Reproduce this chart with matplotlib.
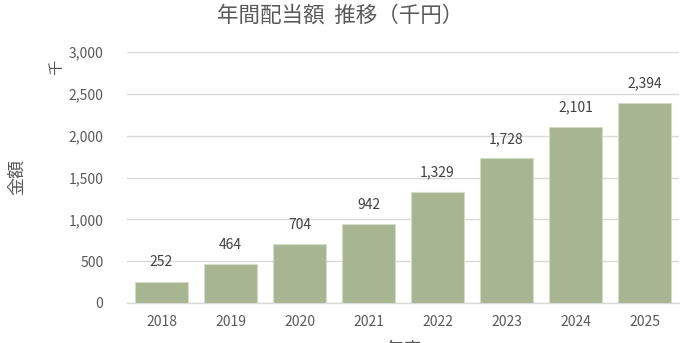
import numpy as np
import matplotlib
matplotlib.use("Agg")
import matplotlib.pyplot as plt

plt.rcParams['font.family'] = ['Noto Sans CJK JP', 'DejaVu Sans']

years = ['2018', '2019', '2020', '2021', '2022', '2023', '2024', '2025']
dividends = [252, 464, 704, 942, 1329, 1728, 2101, 2394]
yticks = [0, 500, 1000, 1500, 2000, 2500, 3000]

text_col = '#595959'
bar_col = '#A7B592'

fig = plt.figure(figsize=(6.85, 3.43), dpi=100)
ax = fig.add_axes([127 / 685, 1 - 303 / 343, 552 / 685, 251 / 343])

x = np.arange(len(years))
bars = ax.bar(x, dividends, width=0.76, color=bar_col, edgecolor='#D3DCC6',
              linewidth=0.8, zorder=3)

for xi, v in zip(x, dividends):
    ax.annotate(f'{v:,}', (xi, v), xytext=(0, 9), textcoords='offset points',
                ha='center', va='bottom', fontsize=10, color='#404040')

ax.set_xlim(-0.5, len(years) - 0.5)
ax.set_ylim(0, 3000)
ax.set_yticks(yticks)
ax.set_yticklabels([f'{t:,}' for t in yticks])
ax.set_xticks(x)
ax.set_xticklabels(years)
ax.tick_params(axis='both', length=0, labelsize=10, labelcolor=text_col)
ax.tick_params(axis='y', pad=17)
ax.tick_params(axis='x', pad=9)

ax.grid(axis='y', color='#D9D9D9', linewidth=1, zorder=0)
for s in ['top', 'right', 'left']:
    ax.spines[s].set_visible(False)
ax.spines['bottom'].set_color('#D9D9D9')
ax.spines['bottom'].set_linewidth(1)

fig.text(340 / 685, 1 - 16 / 343, '年間配当額  推移（千円）', ha='center', va='center',
         fontsize=15.5, color=text_col)
fig.text(57 / 685, 1 - 67 / 343, '千', rotation=90, ha='center', va='center',
         fontsize=11, color=text_col)
fig.text(17 / 685, 1 - 177 / 343, '金額', rotation=90, ha='center', va='center',
         fontsize=13, color=text_col)
fig.text(403 / 685, 1 - 350 / 343, '年度', ha='center', va='center',
         fontsize=13, color=text_col)

fig.savefig('out.png', dpi=100)
